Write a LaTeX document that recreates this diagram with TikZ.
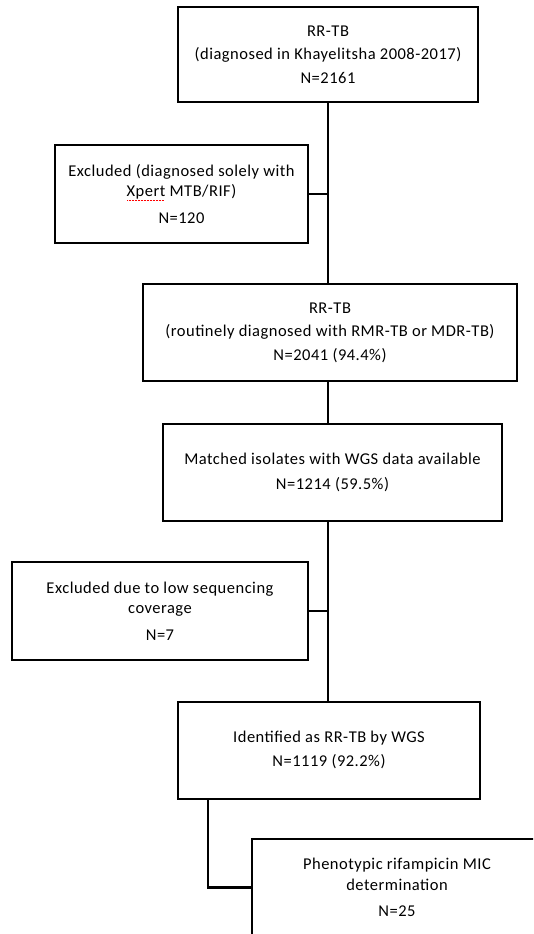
\documentclass[tikz,border=0pt]{standalone}
\usepackage{fontspec}
\setmainfont[LetterSpace=3]{Carlito}
\usepackage{xcolor}
\usetikzlibrary{positioning}
\newsavebox\spellbox
\newcommand\spellerr[1]{\sbox\spellbox{#1}%
  \rlap{\textcolor{red}{\raisebox{-0.45ex}{\hbox to\wd\spellbox{\leaders\hbox to 1.5pt{\hss\rule{0.9pt}{0.6pt}\hss}\hfill}}}}%
  \usebox\spellbox}
\tikzset{
  flowbox/.style={
    rectangle,
    draw=black, line width=2pt,
    fill=white,
    inner sep=0pt, outer sep=0pt,
    align=center,
    font=\fontsize{16.5}{20.5}\selectfont},
  link/.style={draw, line width=2.6pt},
}

\begin{document}
\begin{tikzpicture}[x=1pt,y=-1pt]
\useasboundingbox (0,0) rectangle (533,934);
\clip (0,0) rectangle (533,934);
% main column
\node[flowbox, minimum width=300pt, minimum height=95pt] (total) at (328,54.5)
  {RR-TB\\[3pt](diagnosed in Khayelitsha 2008-2017)\\[3pt]N=2161};
\node[flowbox, minimum width=374pt, minimum height=97pt] (routine) at (330,332.5)
  {RR-TB\\[3pt](routinely diagnosed with RMR-TB or MDR-TB)\\[3pt]N=2041 (94.4\%)};
\node[flowbox, minimum width=339pt, minimum height=97pt] (matched) at (332.5,472.5)
  {Matched isolates with WGS data available\\[4pt]N=1214 (59.5\%)};
\node[flowbox, minimum width=302pt, minimum height=97pt] (wgs) at (329,750)
  {Identified as RR-TB by WGS\\[4pt]N=1119 (92.2\%)};
\node[flowbox, minimum width=290pt, minimum height=97pt] (mic) at (397,887.5)
  {Phenotypic rifampicin MIC\\determination\\[6pt]N=25};
% exclusions
\node[flowbox, minimum width=253pt, minimum height=98pt] (xpert) at (181.5,194)
  {Excluded (diagnosed solely with\\\spellerr{Xpert} MTB/RIF)\\[6pt]N=120};
\node[flowbox, minimum width=296pt, minimum height=98pt] (lowcov) at (160,611)
  {Excluded due to low sequencing\\coverage\\[6pt]N=7};
% connectors
\draw[link] (total.south) -- (total.south |- routine.north);
\draw[link] (xpert.east) -- (xpert.east -| total.south);
\draw[link] (total.south |- routine.south) -- (total.south |- matched.north);
\draw[link] (total.south |- matched.south) -- (total.south |- wgs.north);
\draw[link] (lowcov.east) -- (lowcov.east -| total.south);
\draw[link] ([xshift=30pt]wgs.south west) |- (mic.west);
\end{tikzpicture}
\end{document}
